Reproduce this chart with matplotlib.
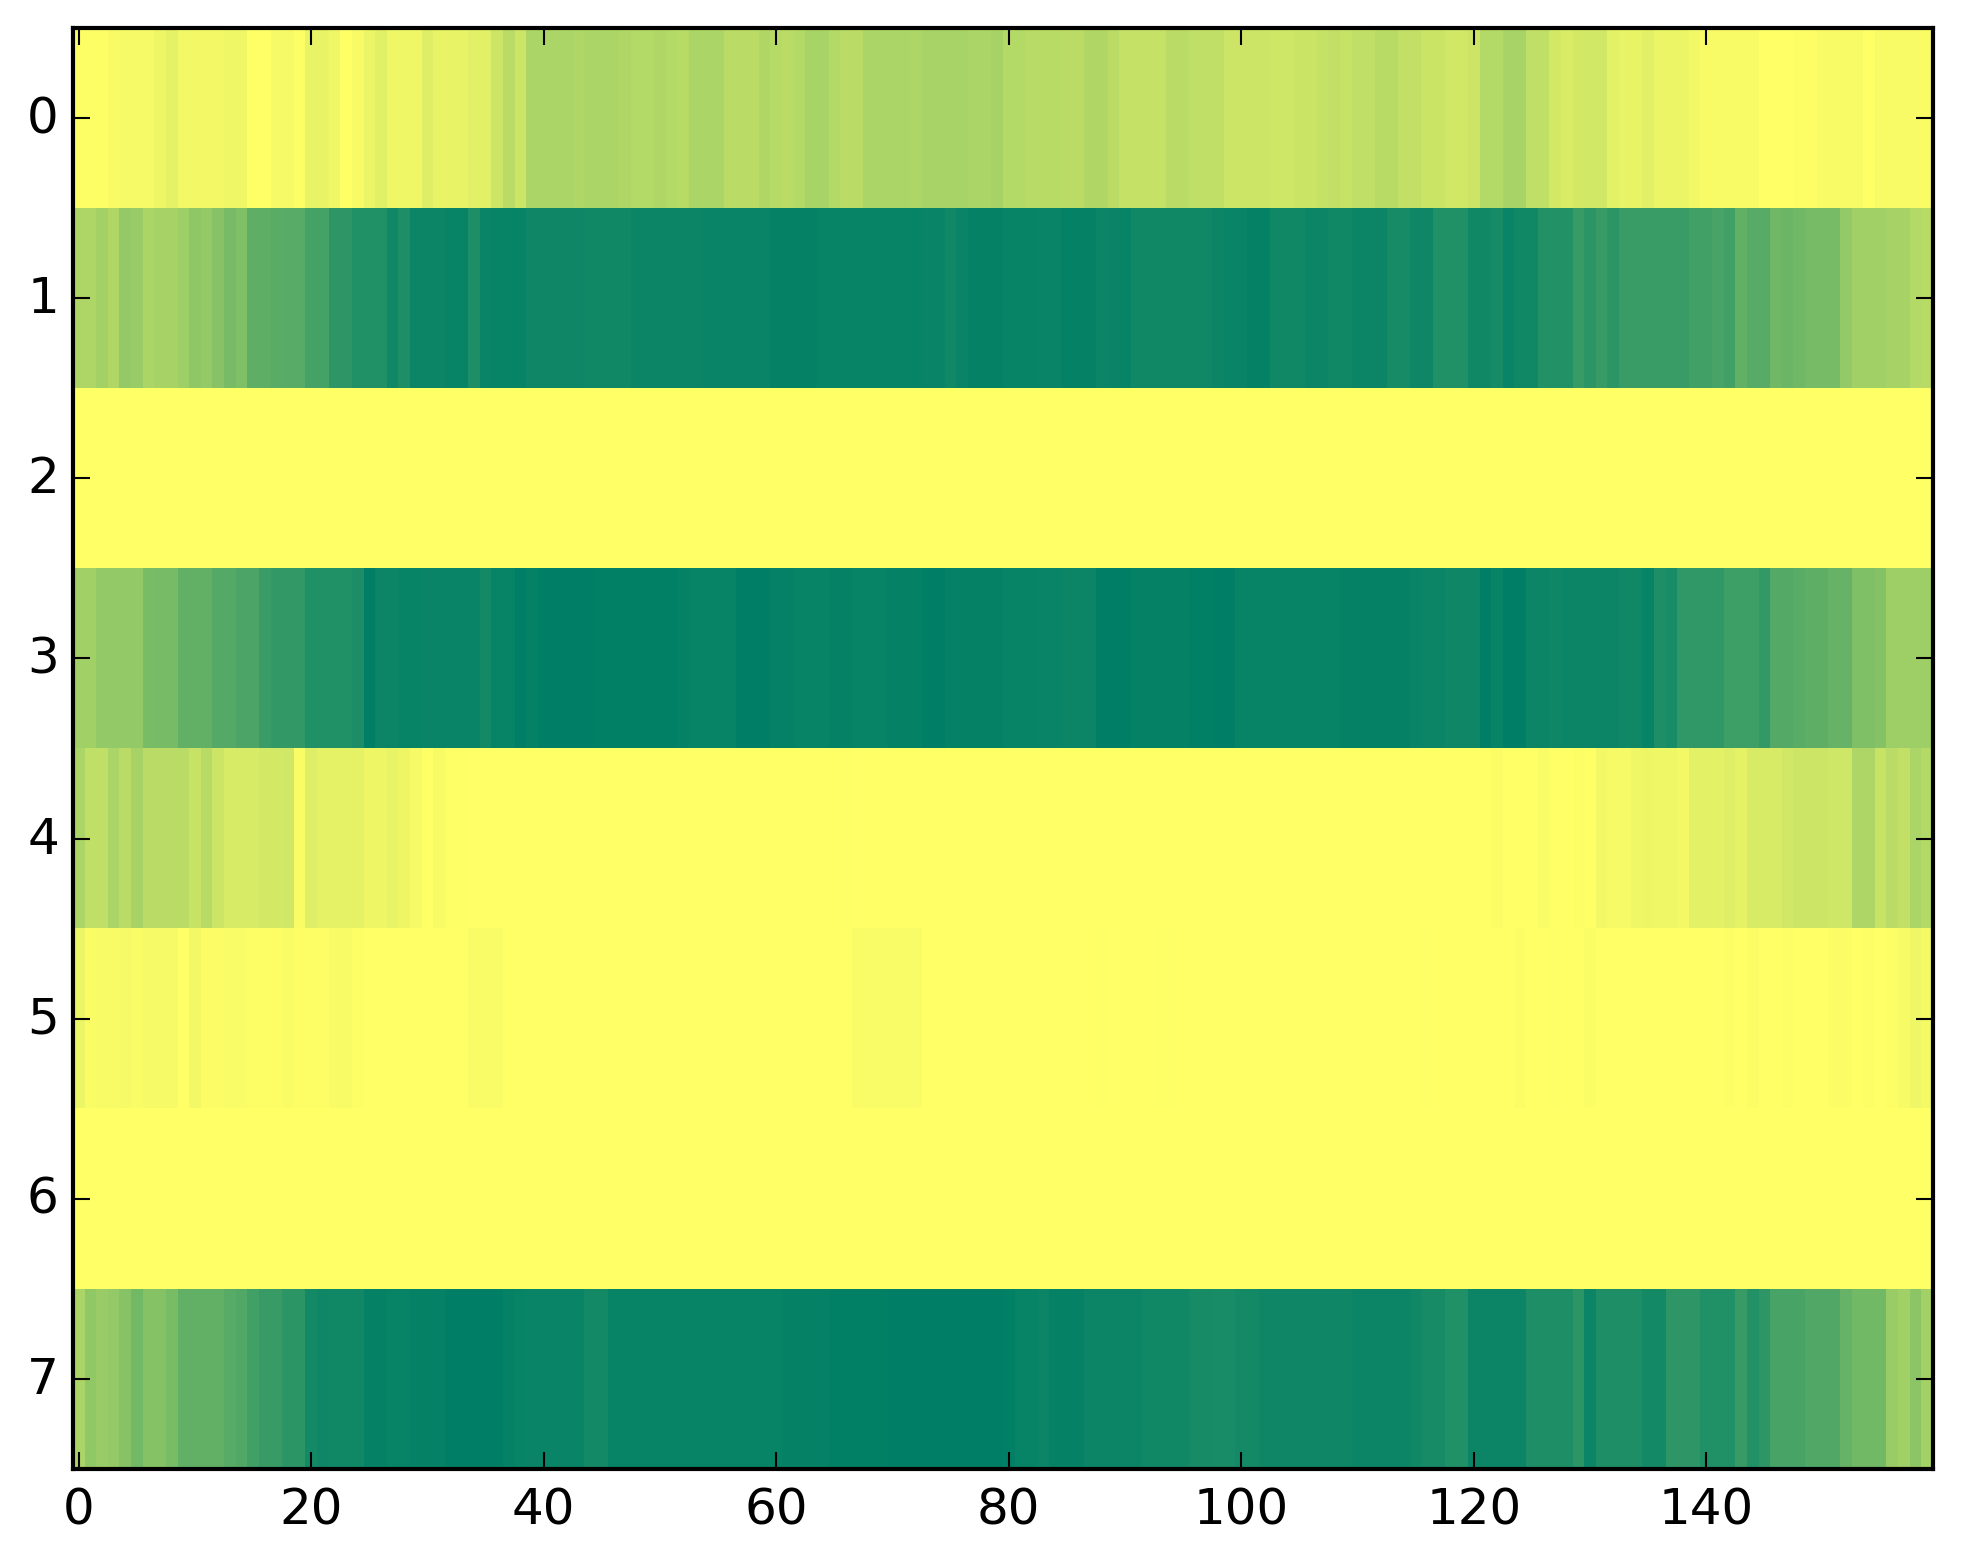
import matplotlib
matplotlib.use('Agg')
import matplotlib.pyplot as plt
import numpy as np

# one list per row of the image (0=yellow, 1=green)
row0 = [.01,.01,.01,.03,.04,.04,.04,.07,.10,.05,
        .05,.05,.05,.06,.06,0,0,.04,.04,.01,
        .09,.09,.06,0,.03,.08,.12,.06,.06,.06,
        .13,.09,.09,.09,.12,.12,.2,.27,.2,.33,
        .33,.33,.33,.31,.33,.33,.33,.31,.3,.3,
        .31,.3,.28,.33,.33,.33,.27,.27,.27,.31,
        .29,.27,.3,.34,.34,.3,.27,.27,.33,.33,
        .33,.33,.32,.34,.34,.34,.34,.33,.33,.35,
        .3,.3,.28,.28,.28,.27,.27,.31,.31,.27,
        .23,.23,.23,.23,.27,.27,.25,.25,.25,.2,
        .2,.2,.2,.19,.19,.21,.21,.23,.24,.22,
        .25,.25,.28,.28,.24,.24,.21,.21,.18,.18,
        .2,.3,.3,.34,.34,.25,.25,.17,.15,.17,
        .18,.18,.11,.09,.09,.12,.08,.08,.08,.05,
        .03,.03,.03,.03,.03,0,0,0,.01,.01,
        .03,.03,.03,.03,0,.03,.03,.03,.03,.02]

row1 = [.32,.32,.36,.31,.42,.4,.33,.35,.35,.38,
        .44,.42,.47,.53,.5,.63,.63,.65,.66,.66,
        .73,.73,.82,.82,.87,.87,.87,.93,.88,.95,
        .95,.95,.97,.97,.88,.96,.97,.97,.97,.94,
        .94,.94,.94,.94,.93,.93,.93,.93,.95,.95,
        .95,.95,.95,.95,.96,.96,.96,.96,.96,.96,
        .98,.98,.98,.98,.97,.97,.97,.97,.97,.97,
        .97,.97,.97,.96,.96,.93,.96,.98,.98,.98,
        .97,.97,.97,.96,.96,.98,.98,.98,.95,.96,
        .97,.93,.93,.93,.93,.93,.93,.93,.95,.96,
        .96,.98,.98,.93,.93,.93,.95,.95,.93,.93,
        .95,.95,.95,.91,.91,.94,.94,.87,.87,.87,
        .93,.93,.91,.96,.93,.93,.86,.86,.86,.78,
        .83,.78,.83,.77,.77,.77,.77,.77,.77,.74,
        .74,.72,.74,.62,.66,.66,.56,.58,.56,.53,
        .53,.53,.42,.37,.37,.37,.35,.35,.3,.28]

row2 = [0] * 160

row3 = [.37,.37,.42,.42,.42,.42,.52,.53,.53,.62,
        .62,.62,.67,.67,.7,.7,.77,.8,.8,.8,
        .87,.87,.87,.87,.89,1,.95,.95,.97,.97,
        .96,.96,.96,.96,.96,.92,.97,.97,1,.98,
        1,1,1,1,1,.99,.99,.99,.99,.99,
        .99,.99,.98,.97,.97,.97,.97,1,1,1,
        .98,.98,.97,.97,.97,.98,.98,.97,.97,.97,
        .98,.98,.98,1,1,.98,.98,.98,.98,.98,
        .97,.97,.97,.96,.96,.95,.95,.95,1,1,
        1,.98,.98,.98,.98,.98,.99,.99,1,1,
        .97,.97,.97,.97,.97,.97,.97,.97,.97,.98,
        .98,.98,.98,.98,.98,.96,.95,.95,.94,.94,
        .94,1,.97,1,1,.95,.95,.94,.95,.95,
        .95,.95,.95,.93,.93,.97,.88,.9,.81,.81,
        .81,.81,.76,.76,.76,.8,.67,.67,.65,.63,
        .63,.6,.6,.5,.5,.48,.38,.38,.38,.38]

row4 = [.33,.25,.25,.33,.27,.35,.27,.27,.27,.27,
        .22,.28,.2,.16,.16,.16,.17,.17,.18,.02,
        .13,.1,.1,.1,.1,.07,.07,.09,.07,.04,
        0,.03,.005,.005,0,0,0,0,0,0,
        0,0,0,0,0,0,0,0,0,0,
        0,0,0,0,0,0,0,0,0,0,
        0,0,0,0,0,0,.005,0,0,0,
        0,0,0,0,0,0,0,0,0,0,
        0,0,0,.003,0,0,0,0,0,0,
        0,0,0,0,0,0,0,0,0,0,
        0,0,0,0,0,0,0,0,0,0,
        0,0,0,0,0,0,0,0,0,0,
        0,0,.015,0,0,0,.025,0,0,.01,
        0,.05,.04,.04,.06,.07,.06,.06,.05,.11,
        .11,.11,.13,.1,.16,.16,.16,.18,.2,.2,
        .2,.19,.19,.32,.32,.22,.27,.24,.33,.3]

row5 = [.08,.02,.03,.03,.04,.02,.04,.04,.04,0,
        .05,.015,.015,.025,.025,.01,.01,.01,.02,.01,
        .01,.01,.03,.03,.01,0,0,0,0,0,
        0,0,0,0,.025,.025,.025,.002,.002,.002,
        0,0,0,0,0,0,0,0,0,0,
        0,0,0,0,0,.003,.003,0,0,0,
        0,0,0,0,0,0,0,.025,.025,.025,
        .025,.025,.025,0,0,0,0,0,0,0,
        0,0,0,0,0,0,0,0,.005,0,
        0,0,0,.004,.004,0,0,.003,.003,.003,
        .003,0,0,0,0,0,0,0,0,0,
        0,0,0,0,0,0,.004,0,0,0,
        0,0,0,0,.015,0,0,.004,0,0,
        .018,0,0,0,0,0,0,0,0,0,
        0,0,.01,0,.012,0,0,.008,0,0,
        0,.012,.012,0,.008,0,.01,.035,.06,.045]

row6 = [0] * 160

row7 = [.33,.43,.4,.42,.47,.55,.48,.48,.52,.62,
        .62,.62,.62,.66,.68,.74,.78,.78,.83,.83,
        .92,.94,.93,.93,.93,.98,.98,.97,.97,.98,
        .98,.98,1,1,1,1,1,.98,.97,.96,
        .96,.96,.96,.96,.92,.92,.97,.97,.97,.97,
        .97,.97,.97,.97,.97,.97,.97,.97,.97,.97,
        .97,.98,.98,.98,.98,.99,.99,.99,.99,.99,
        1,1,1,1,1,1,1,1,1,1,
        .99,.97,.97,.95,.98,.98,.98,.95,.95,.95,
        .95,.95,.93,.93,.93,.93,.91,.91,.9,.9,
        .92,.92,.94,.94,.94,.94,.94,.94,.94,.94,
        .95,.95,.95,.95,.95,.93,.91,.91,.87,.87,
        .95,.95,.95,.95,.95,.88,.88,.88,.88,.83,
        .95,.88,.88,.88,.88,.92,.92,.82,.82,.82,
        .87,.87,.87,.78,.86,.82,.72,.72,.72,.68,
        .68,.68,.6,.55,.55,.55,.4,.37,.45,.36]

rows = [row0, row1, row2, row3, row4, row5, row6, row7]
data = np.array(rows, dtype=float)

plt.style.use('classic')
plt.rcParams['font.family'] = 'DejaVu Sans'

fig = plt.figure(figsize=(1963 / 300, 1564 / 300), facecolor='white')
ax = fig.add_axes([73 / 1963, 1 - 1470 / 1564, 1860 / 1963, 1441 / 1564])
ax.imshow(data, cmap='summer_r', vmin=0, vmax=1, aspect='auto', interpolation='nearest')

ax.set_xticks(np.arange(0, 160, 20))
ax.set_yticks(np.arange(0, 8))
ax.tick_params(axis='y', pad=3.4)

plt.savefig('out.png', dpi=300)
